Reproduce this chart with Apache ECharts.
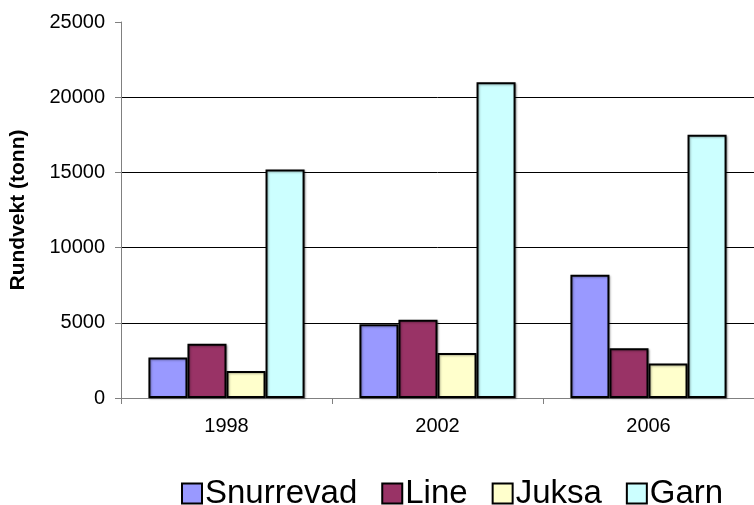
<!DOCTYPE html>
<html>
<head>
<meta charset="utf-8">
<script src="https://cdn.jsdelivr.net/npm/echarts@6/dist/echarts.min.js"></script>
<style>
  html, body { margin: 0; padding: 0; background: #fff; }
  #main { width: 754px; height: 505px; }
</style>
</head>
<body>
<div id="main"></div>
<script>
const years = ['1998', '2002', '2006']
const snurrevad = [2700, 4900, 8200]
const line = [3600, 5200, 3300]
const juksa = [1800, 3000, 2300]
const garn = [15200, 21000, 17500]
const yTicks = [0, 5000, 10000, 15000, 20000, 25000]

const barSeries = (name, data, color) => {
  return {
    name: name,
    type: 'bar',
    data: data,
    barGap: '0%',
    barCategoryGap: '26%',
    itemStyle: {
      color: color,
      borderColor: '#000',
      borderWidth: 2,
      shadowColor: 'rgba(0,0,0,0.3)',
      shadowBlur: 2,
      shadowOffsetX: 1,
      shadowOffsetY: 1
    }
  }
}

var myChart = echarts.init(document.getElementById('main'))

var option = {
  animation: false,
  textStyle: { fontFamily: 'Liberation Sans, Arial, sans-serif' },
  grid: { left: 120, right: 0, top: 22, bottom: 107 },
  legend: {
    left: 181,
    top: 477,
    padding: 0,
    icon: 'rect',
    itemWidth: 20,
    itemHeight: 20,
    itemGap: 24,
    itemStyle: { borderColor: '#000', borderWidth: 2, shadowBlur: 0, shadowOffsetX: 0, shadowOffsetY: 0 },
    textStyle: { fontSize: 33, color: '#000', padding: [0, 0, 0, -2] },
    data: ['Snurrevad', 'Line', 'Juksa', 'Garn']
  },
  xAxis: {
    type: 'category',
    data: years,
    axisLine: { lineStyle: { color: '#808080', width: 1 } },
    axisTick: { show: true, length: 6, lineStyle: { color: '#808080' } },
    axisLabel: { color: '#000', fontSize: 20, margin: 18 }
  },
  yAxis: {
    type: 'value',
    min: yTicks[0],
    max: yTicks[yTicks.length - 1],
    interval: 5000,
    name: 'Rundvekt (tonn)',
    nameLocation: 'middle',
    nameGap: 92,
    nameRotate: 90,
    nameTextStyle: { fontSize: 21, fontWeight: 'bold', color: '#000' },
    axisLine: { show: true, lineStyle: { color: '#808080', width: 1 } },
    axisTick: { show: true, length: 6, lineStyle: { color: '#808080' } },
    axisLabel: { color: '#000', fontSize: 20, margin: 16, formatter: (v) => String(v) },
    splitLine: {
      show: true,
      lineStyle: { color: ['#808080', '#000', '#000', '#000', '#000', 'rgba(0,0,0,0)'], width: 1 }
    }
  },
  series: [
    barSeries('Snurrevad', snurrevad, '#9999FF'),
    barSeries('Line', line, '#993366'),
    barSeries('Juksa', juksa, '#FFFFCC'),
    barSeries('Garn', garn, '#CCFFFF')
  ]
}

myChart.setOption(option)
window.addEventListener('resize', () => {
  myChart.resize()
})
</script>
</body>
</html>
